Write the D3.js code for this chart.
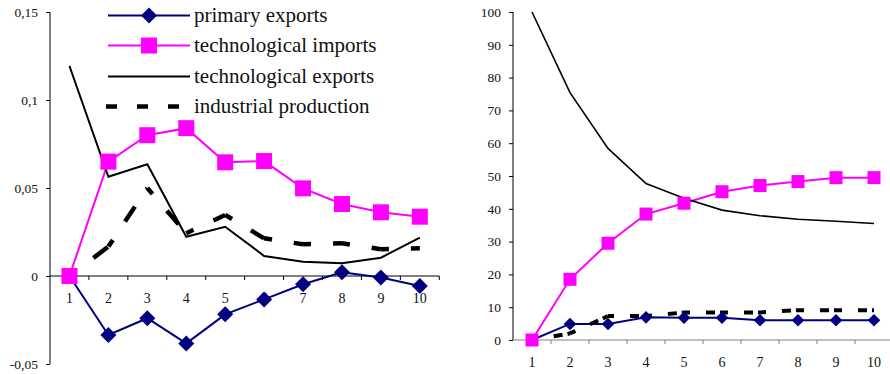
<!DOCTYPE html>
<html>
<head>
<meta charset="utf-8">
<script src="https://cdn.jsdelivr.net/npm/d3@7"></script>
<style>
  html, body { margin: 0; padding: 0; background: #fff; }
  svg { display: block; }
  svg text { font-family: "Liberation Serif", "Times New Roman", "DejaVu Serif", serif !important; }
</style>
</head>
<body>
<svg id="chart" width="890" height="374"></svg>
<script>
// Periods shown on the x axis
const categories = [1, 2, 3, 4, 5, 6, 7, 8, 9, 10];

// Left panel: responses per period
const primaryExportsRate   = [0, -0.0335, -0.024, -0.0383, -0.0218, -0.0133, -0.0047, 0.0021, -0.0008, -0.0057];
const techImportsRate      = [0, 0.065, 0.080, 0.084, 0.0646, 0.0653, 0.0498, 0.0409, 0.0362, 0.0337];
const techExportsRate      = [0.1193, 0.0564, 0.0635, 0.0223, 0.028, 0.0114, 0.0081, 0.0072, 0.0104, 0.0218];
const industrialRate       = [0, 0.0167, 0.05, 0.0243, 0.0347, 0.0214, 0.018, 0.0186, 0.0152, 0.0157];

// Right panel: shares (%)
const primaryExportsShare  = [0, 4.9, 4.9, 6.9, 6.8, 6.8, 6.0, 6.0, 6.0, 6.0];
const techImportsShare     = [0, 18.5, 29.5, 38.4, 41.7, 45.2, 47.1, 48.3, 49.5, 49.5];
const techExportsShare     = [100, 75.4, 58.4, 47.7, 43.2, 39.6, 37.9, 36.8, 36.2, 35.5];
const industrialShare      = [0, 2.0, 7.3, 7.3, 8.4, 8.4, 8.4, 9.1, 9.1, 9.1];

// Axis ticks
const leftTicks  = [-0.05, 0, 0.05, 0.1, 0.15];
const rightTicks = [0, 10, 20, 30, 40, 50, 60, 70, 80, 90, 100];

// Legend labels
const seriesNames = ["primary exports", "technological imports", "technological exports", "industrial production"];

const svg = d3.select("#chart");
const NAVY = "#000080", MAGENTA = "#ff00ff";
const SERIF = '"Liberation Serif", "Times New Roman", "DejaVu Serif", serif';

const commaFmt = d => String(d).replace(".", ",");

function diamondPath(h) { return `M0,${-h}L${h},0L0,${h}L${-h},0Z`; }

function drawPanel(cfg) {
  const g = svg.append("g");
  const x = d3.scaleLinear().domain([0.5, 10.5]).range([cfg.x0, cfg.x1]);
  const y = d3.scaleLinear().domain(cfg.domain).range([cfg.yBottom, cfg.yTop]);

  // y axis
  const yAxis = g.append("g")
    .attr("transform", `translate(${cfg.x0},0)`)
    .call(d3.axisLeft(y).tickValues(cfg.ticks).tickSize(4).tickPadding(8).tickFormat(cfg.fmt))
    .attr("font-family", SERIF);
  yAxis.select(".domain").attr("stroke", "#000").attr("d", `M-0,${cfg.yBottom}V${cfg.yTop}`);
  yAxis.selectAll(".tick line").attr("stroke", "#000");
  yAxis.selectAll("text").attr("fill", "#111").style("font-size", "13.5px").style("font-family", SERIF);

  // x axis: ticks between periods, labels at periods
  const y0 = y(0);
  const xg = g.append("g").attr("transform", `translate(0,${y0})`);
  xg.append("line").attr("x1", cfg.x0).attr("x2", cfg.x1).attr("stroke", cfg.xAxisColor).attr("stroke-width", 1);
  xg.selectAll("line.tk").data(categories.map(c => c + 0.5)).join("line")
    .attr("class", "tk")
    .attr("x1", d => x(d)).attr("x2", d => x(d))
    .attr("y1", 0).attr("y2", 4)
    .attr("stroke", cfg.xAxisColor);
  xg.selectAll("text").data(categories).join("text")
    .attr("x", d => x(d)).attr("y", 27)
    .attr("text-anchor", "middle")
    .attr("fill", "#111")
    .style("font-size", "14px")
    .style("font-family", SERIF)
    .text(d => d);

  const pts = vals => vals.map((v, i) => [x(categories[i]), y(v)]);
  const line = d3.line();

  // primary exports
  g.append("path").attr("d", line(pts(cfg.primary))).attr("fill", "none").attr("stroke", NAVY).attr("stroke-width", 2);
  // technological imports
  g.append("path").attr("d", line(pts(cfg.imports))).attr("fill", "none").attr("stroke", MAGENTA).attr("stroke-width", 2);
  // technological exports
  g.append("path").attr("d", line(pts(cfg.exports))).attr("fill", "none").attr("stroke", "#000").attr("stroke-width", cfg.solidWidth);
  // industrial production: dash pattern restarts at every vertex
  d3.pairs(pts(cfg.industrial)).forEach(([a, b]) => {
    g.append("line")
      .attr("x1", a[0]).attr("y1", a[1]).attr("x2", b[0]).attr("y2", b[1])
      .attr("stroke", "#000").attr("stroke-width", cfg.dashWidth)
      .attr("stroke-dasharray", cfg.dash);
  });

  // markers
  g.selectAll("path.dm").data(pts(cfg.primary)).join("path")
    .attr("class", "dm")
    .attr("transform", d => `translate(${d[0]},${d[1]})`)
    .attr("d", diamondPath(cfg.diamond))
    .attr("fill", NAVY);
  g.selectAll("rect.sq").data(pts(cfg.imports)).join("rect")
    .attr("class", "sq")
    .attr("x", d => d[0] - cfg.square / 2).attr("y", d => d[1] - cfg.square / 2)
    .attr("width", cfg.square).attr("height", cfg.square)
    .attr("fill", MAGENTA);
  return g;
}

drawPanel({
  x0: 50, x1: 439.3, yTop: 12, yBottom: 364,
  domain: [-0.05, 0.15], ticks: leftTicks, fmt: commaFmt,
  xAxisColor: "#000",
  primary: primaryExportsRate, imports: techImportsRate,
  exports: techExportsRate, industrial: industrialRate,
  dash: "8,22,18,21", dashWidth: 4.5, solidWidth: 2,
  diamond: 8, square: 16
});

drawPanel({
  x0: 513, x1: 893, yTop: 12, yBottom: 340,
  domain: [0, 100], ticks: rightTicks, fmt: d => d,
  xAxisColor: "#808080",
  primary: primaryExportsShare, imports: techImportsShare,
  exports: techExportsShare, industrial: industrialShare,
  dash: "6,16,9,5", dashWidth: 4, solidWidth: 1.6,
  diamond: 6.3, square: 13
});

// Legend (left panel)
const legend = svg.append("g");
const rowY = [15.5, 45.5, 76.5, 106.5];
seriesNames.forEach((name, i) => {
  const ly = rowY[i];
  if (i === 0) {
    legend.append("line").attr("x1", 108).attr("x2", 190).attr("y1", ly).attr("y2", ly).attr("stroke", NAVY).attr("stroke-width", 2);
    legend.append("path").attr("transform", `translate(149,${ly})`).attr("d", diamondPath(8)).attr("fill", NAVY);
  } else if (i === 1) {
    legend.append("line").attr("x1", 108).attr("x2", 190).attr("y1", ly).attr("y2", ly).attr("stroke", MAGENTA).attr("stroke-width", 2);
    legend.append("rect").attr("x", 141).attr("y", ly - 8).attr("width", 16).attr("height", 16).attr("fill", MAGENTA);
  } else if (i === 2) {
    legend.append("line").attr("x1", 108).attr("x2", 190).attr("y1", ly).attr("y2", ly).attr("stroke", "#000").attr("stroke-width", 2);
  } else {
    legend.append("line").attr("x1", 106).attr("x2", 179).attr("y1", ly).attr("y2", ly)
      .attr("stroke", "#000").attr("stroke-width", 4.5).attr("stroke-dasharray", "11,20");
  }
  legend.append("text")
    .attr("x", 194).attr("y", ly + 6.5)
    .attr("fill", "#111")
    .style("font-size", "21px")
    .style("font-family", SERIF)
    .text(name);
});
</script>
</body>
</html>
